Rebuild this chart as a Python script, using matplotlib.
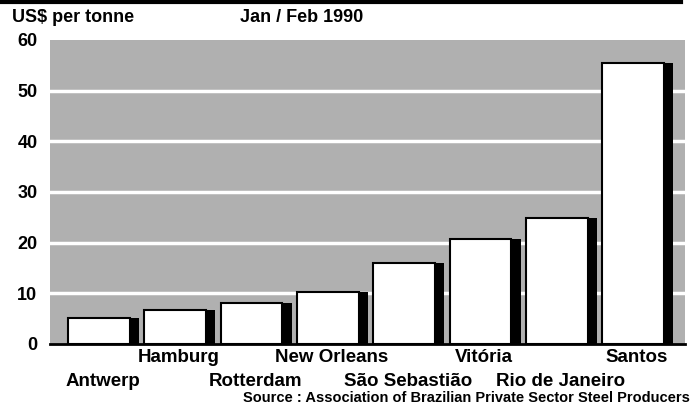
import numpy as np
import matplotlib
matplotlib.use("Agg")
import matplotlib.pyplot as plt

ports = ["Antwerp", "Hamburg", "Rotterdam", "New Orleans",
         "São Sebastião", "Vitória", "Rio de Janeiro", "Santos"]
cost = [5.1, 6.7, 8.0, 10.2, 16.0, 20.7, 24.8, 55.4]
yticks = [0, 10, 20, 30, 40, 50, 60]

plt.rcParams['font.family'] = ['Liberation Sans', 'DejaVu Sans']

fig = plt.figure(figsize=(6.91, 4.08), dpi=100)
ax = fig.add_axes([50 / 691, 64 / 408, 635 / 691, 304 / 408])

x = np.arange(len(ports))
ax.set_facecolor('#b0b0b0')
for t in yticks[1:-1]:
    ax.axhline(t, color='white', lw=2.5, zorder=1)

# black shadow bar, then white bar shifted left on top
ax.bar(x + 0.01, cost, width=0.93, color='black', zorder=2)
ax.bar(x - 0.05, cost, width=0.81, color='white', edgecolor='black', lw=1.5, zorder=3)

ax.set_xlim(-0.69, 7.63)
ax.set_ylim(0, 60)
ax.set_yticks(yticks)
ax.set_yticklabels([str(t) for t in yticks], fontsize=13, fontweight='bold')
ax.tick_params(axis='y', length=0, pad=9)
ax.set_xticks([])
for s in ['top', 'right', 'left']:
    ax.spines[s].set_visible(False)
ax.spines['bottom'].set_linewidth(2)

for i, name in enumerate(ports):
    yy = -0.045 if i % 2 else -0.125
    ax.text(i, yy, name, transform=ax.get_xaxis_transform(), ha='center', va='center',
            fontsize=13.5, fontweight='bold')

fig.text(12 / 691, 1 - 17 / 408, "US$ per tonne", fontsize=13, fontweight='bold', va='center')
fig.text(240 / 691, 1 - 17 / 408, "Jan / Feb 1990", fontsize=13, fontweight='bold', va='center')
fig.text(690 / 691, 1 - 398 / 408, "Source : Association of Brazilian Private Sector Steel Producers",
         fontsize=10.5, fontweight='bold', ha='right', va='center')
fig.add_artist(plt.Line2D([0, 0.985], [1 - 2 / 408, 1 - 2 / 408], color='black', lw=3,
                          transform=fig.transFigure))

fig.savefig('out.png', dpi=100)
